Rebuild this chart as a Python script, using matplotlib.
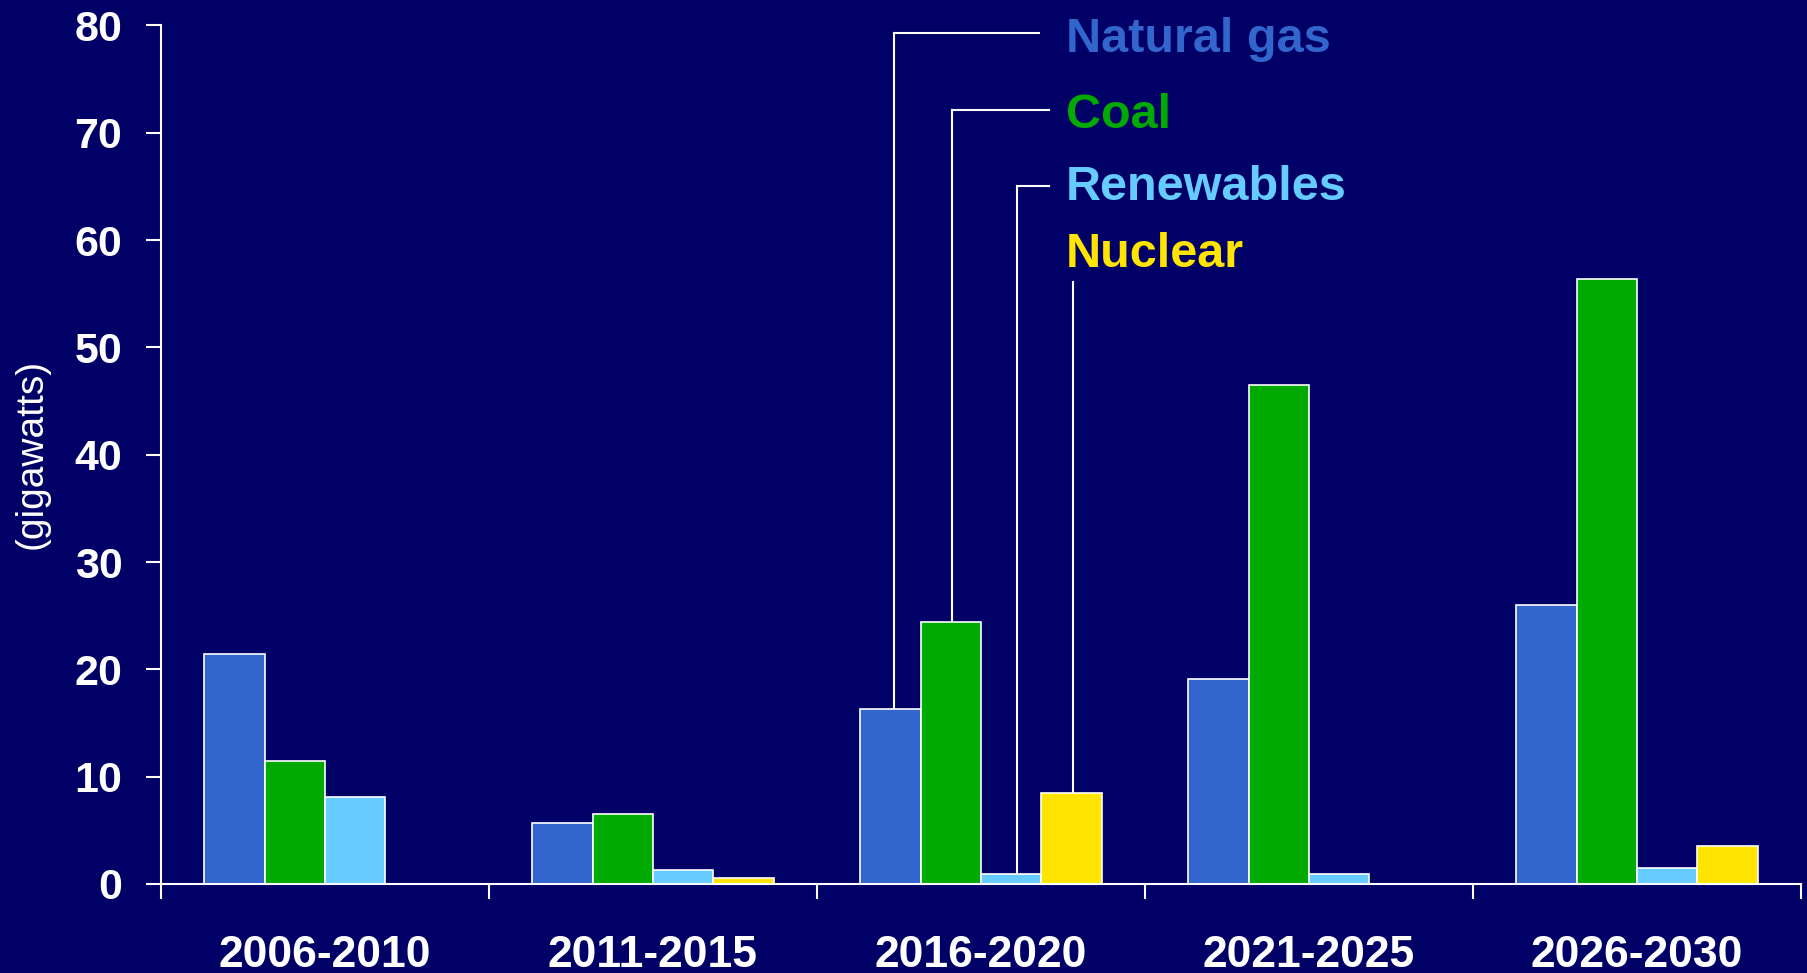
import numpy as np
import matplotlib
matplotlib.use("Agg")
import matplotlib.pyplot as plt

periods = ["2006-2010", "2011-2015", "2016-2020", "2021-2025", "2026-2030"]
natural_gas = [21.4, 5.7, 16.3, 19.1, 26.0]
coal = [11.5, 6.55, 24.4, 46.5, 56.4]
renewables = [8.15, 1.3, 0.95, 0.95, 1.45]
nuclear = [0.0, 0.55, 8.5, 0.0, 3.55]

series = [
    ("Natural gas", natural_gas, "#3366CC"),
    ("Coal", coal, "#00AA00"),
    ("Renewables", renewables, "#66CCFF"),
    ("Nuclear", nuclear, "#FFE500"),
]

BG = "#000066"
plt.rcParams["font.family"] = ["Liberation Sans", "DejaVu Sans"]

fig = plt.figure(figsize=(18.08, 9.73), dpi=100, facecolor=BG)
ax = fig.add_axes([0.0890, 0.0915, 0.9071, 0.8824], facecolor=BG)

x = np.arange(len(periods))
w = 0.184
offsets = (np.arange(len(series)) - 1.5) * w
for (name, vals, col), off in zip(series, offsets):
    ax.bar(x + off, vals, width=w, color=col, edgecolor="white", linewidth=1.2, zorder=2)

ax.set_xlim(-0.5, len(periods) - 0.5)
ax.set_ylim(0, 80)

for side in ["top", "right"]:
    ax.spines[side].set_visible(False)
for side in ["left", "bottom"]:
    ax.spines[side].set_color("white")
    ax.spines[side].set_linewidth(1.5)
    ax.spines[side].set_zorder(3)

ax.set_yticks(np.arange(0, 81, 10))
ax.tick_params(axis="y", colors="white", length=10.8, width=1.5, pad=17,
               labelsize=31)
for lbl in ax.get_yticklabels():
    lbl.set_fontweight("bold")

ax.set_xticks(x)
ax.set_xticklabels(periods, fontsize=32, fontweight="bold", color="white")
ax.tick_params(axis="x", which="major", length=0, pad=37)
ax.set_xticks(np.arange(-0.5, len(periods)), minor=True)
ax.tick_params(axis="x", which="minor", colors="white", length=10.8, width=1.5)

fig.text(32 / 1808, 1 - 454 / 973, "(gigawatts)", rotation=90, color="white",
         fontsize=28, ha="center", va="center")

# callout lines from the 2016-2020 bars to the labels
g = 2
nudge = [0.012, 0.003, 0.017, 0.006]
line_tops = [79.3, 72.1, 65.0, 56.1]
line_ends = [2.177, 2.207, 2.207, None]
label_base = [77.5, 70.4, 63.7, 57.5]
for (name, vals, col), off, dx, top, end, ly in zip(series, offsets, nudge,
                                                   line_tops, line_ends, label_base):
    bx = g + off + dx
    ax.plot([bx, bx], [vals[g], top], color="white", lw=1.5, zorder=1)
    if end is not None:
        ax.plot([bx, end], [top, top], color="white", lw=1.5, zorder=1)
    ax.text(2.258, ly, name, color=col, fontsize=35, fontweight="bold",
            ha="left", va="baseline")

fig.savefig("out.png", dpi=100, facecolor=BG)
